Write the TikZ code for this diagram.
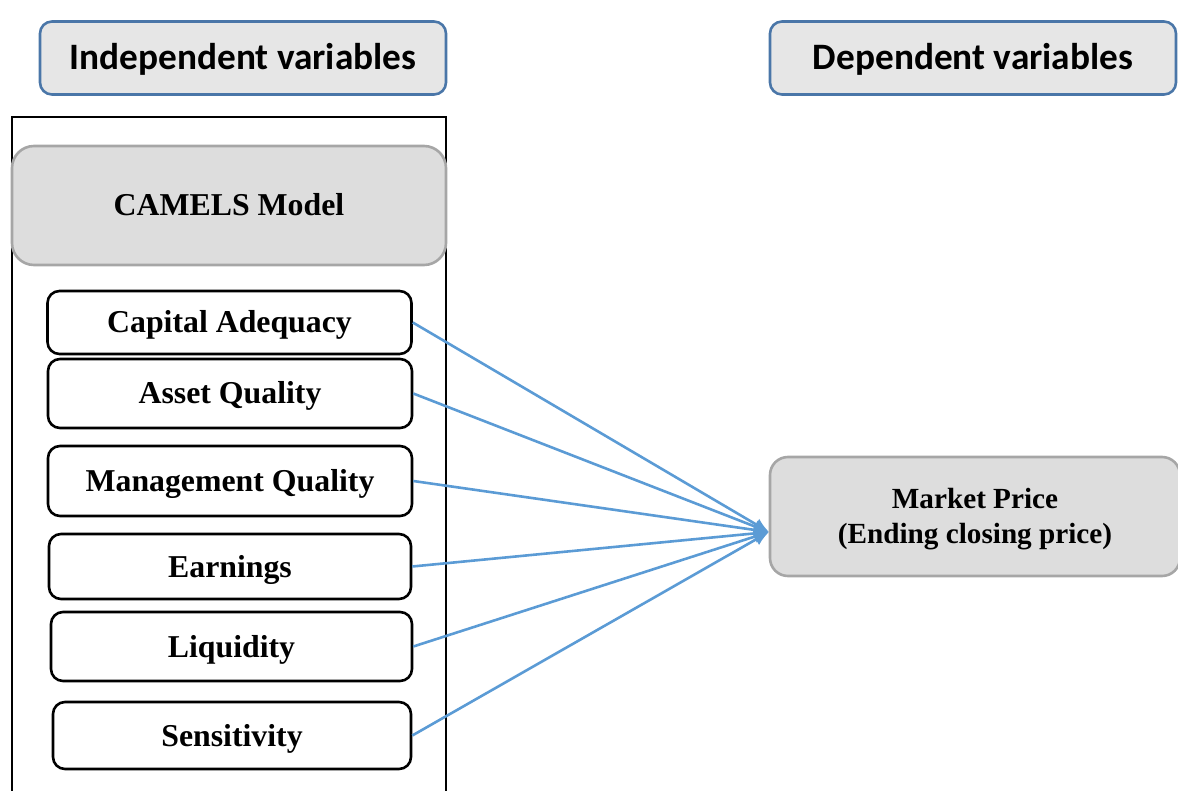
\documentclass[tikz,border=0pt]{standalone}
\usepackage{fontspec}
\setmainfont{Liberation Serif}
\newfontfamily\headfont{Carlito}
\usetikzlibrary{arrows.meta}

\definecolor{headfill}{HTML}{E6E6E6}
\definecolor{headline}{HTML}{4A76A8}
\definecolor{boxfill}{HTML}{DDDDDD}
\definecolor{boxline}{HTML}{A6A6A6}
\definecolor{arrowblue}{HTML}{5B9BD5}

\tikzset{
  head/.style={draw=headline,fill=headfill,line width=2.6pt,rounded corners=12pt,
    minimum width=406pt,minimum height=73pt,text height=24pt,text depth=0pt,
    font=\headfont\bfseries\fontsize{37.3}{40}\selectfont},
  factor/.style={draw,line width=2.6pt,rounded corners=12pt,minimum width=364pt,
    text height=21pt,text depth=0pt,font=\bfseries\fontsize{31.8}{34}\selectfont},
  greybox/.style={draw=boxline,fill=boxfill,line width=2.6pt,align=center,
    text height=21pt,text depth=0pt,font=\bfseries\fontsize{31.8}{34}\selectfont},
  link/.style={arrowblue,line width=2.6pt,-{Latex[length=15pt,width=13pt]}}
}

\begin{document}
\begin{tikzpicture}[x=1pt,y=-1pt]
  \useasboundingbox (0,0) rectangle (1178,791);

  \node[head] (indep) at (243,58) {Independent variables};
  \node[head] (dep) at (973,58) {Dependent variables};

  % frame round the CAMELS block, open at the foot
  \draw[line width=2.6pt] (12,800) -- (12,117) -- (446,117) -- (446,800);

  \node[greybox,rounded corners=22pt,minimum width=434pt,minimum height=119pt] (camels) at (229,205.5) {CAMELS Model};

  \node[factor,minimum height=63pt] (cap) at (229.5,322.5) {Capital Adequacy};
  \node[factor,minimum height=69pt] (asset) at (230,393.5) {Asset Quality};
  \node[factor,minimum height=70pt] (mgmt) at (230,481) {Management Quality};
  \node[factor,minimum height=65pt,minimum width=362pt] (earn) at (230,566.5) {Earnings};
  \node[factor,minimum height=69pt,minimum width=361pt] (liq) at (231.5,646.5) {Liquidity};
  \node[factor,minimum height=67pt,minimum width=358pt] (sens) at (232,735.5) {Sensitivity};

  \node[greybox,rounded corners=18pt,minimum width=410pt,minimum height=119pt,
    text height=54pt,font=\bfseries\fontsize{29.2}{35}\selectfont] (price) at (975,516.5) {Market Price\\(Ending closing price)};
  \coordinate (tip) at (769,532);

  \foreach \f in {cap,asset,mgmt,earn,liq,sens}
    \draw[link] (\f.east) -- (tip);
\end{tikzpicture}
\end{document}
